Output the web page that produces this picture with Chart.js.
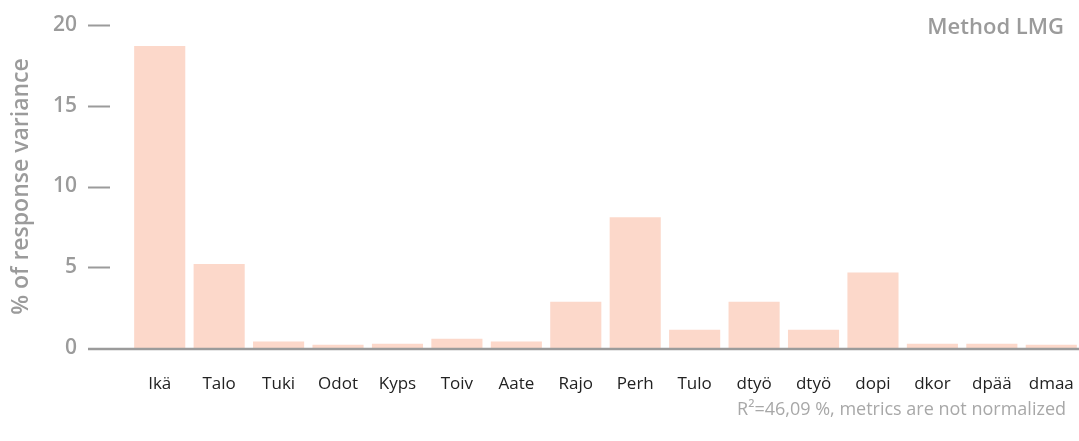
<!DOCTYPE html>
<html>
<head>
<meta charset="utf-8">
<script src="https://cdn.jsdelivr.net/npm/chart.js@4"></script>
<style>
  html, body { margin: 0; padding: 0; background: #fff; overflow: hidden; }
  #wrap { width: 1083px; height: 441px; position: relative; }
</style>
</head>
<body>
<div id="wrap"><canvas id="chart"></canvas></div>
<script>
// --- datos ---
const CATEGORIES = ['Ikä', 'Talo', 'Tuki', 'Odot', 'Kyps', 'Toiv', 'Aate', 'Rajo', 'Perh', 'Tulo', 'dtyö', 'dtyö', 'dopi', 'dkor', 'dpää', 'dmaa'];
const VARIANCE = [18.7, 5.2, 0.41, 0.2, 0.27, 0.58, 0.41, 2.87, 8.1, 1.13, 2.87, 1.13, 4.67, 0.27, 0.27, 0.2];
const Y_TICKS = [0, 5, 10, 15, 20];
const METHOD_LABEL = 'Method LMG';
const FOOTNOTE = 'R²=46,09 %, metrics are not normalized';

const FONT = '"Open Sans", Lato, sans-serif';
const GRAY = '#9b9b9b';

// rayitas del eje y, linea base y textos sueltos
const decor = {
  id: 'decor',
  afterDraw(chart) {
    const { ctx } = chart;
    const y = chart.scales.y;
    ctx.save();
    ctx.strokeStyle = GRAY;
    ctx.lineWidth = 2;
    Y_TICKS.forEach(v => {
      if (v === 0) return;
      const py = Math.round(y.getPixelForValue(v)) + 0.5;
      ctx.beginPath();
      ctx.moveTo(88, py);
      ctx.lineTo(110, py);
      ctx.stroke();
    });
    const base = y.getPixelForValue(0) + 1;
    ctx.lineWidth = 2.5;
    ctx.beginPath();
    ctx.moveTo(88, base);
    ctx.lineTo(chart.width, base);
    ctx.stroke();

    ctx.fillStyle = GRAY;
    ctx.textAlign = 'right';
    ctx.textBaseline = 'middle';
    ctx.font = `600 22px ${FONT}`;
    ctx.fillText(METHOD_LABEL, 1064, 28);
    ctx.font = `18px ${FONT}`;
    ctx.fillStyle = '#a8a8a8';
    ctx.fillText(FOOTNOTE, 1066, 410);
    ctx.restore();
  }
};

new Chart(document.getElementById('chart'), {
  type: 'bar',
  data: {
    labels: CATEGORIES,
    datasets: [{
      data: VARIANCE,
      backgroundColor: '#fcd8ca',
      barPercentage: 0.86,
      categoryPercentage: 1
    }]
  },
  options: {
    responsive: true,
    maintainAspectRatio: false,
    animation: false,
    layout: { padding: { top: 0, right: 2, bottom: 0, left: 0 } },
    plugins: {
      legend: { display: false },
      tooltip: { enabled: false }
    },
    scales: {
      x: {
        afterFit(scale) {
          scale.height = 93;
          scale.paddingLeft = 0;
          scale.paddingRight = 0;
        },
        grid: { display: false, drawTicks: false },
        border: { display: false },
        ticks: {
          color: '#222',
          font: { family: FONT, size: 17 },
          padding: 26,
          maxRotation: 0,
          autoSkip: false
        }
      },
      y: {
        min: 0,
        max: 20,
        afterFit(scale) {
          scale.width = 130;
          scale.paddingTop = 25;
          scale.paddingBottom = 10;
        },
        afterBuildTicks(scale) { scale.ticks = Y_TICKS.map(v => ({ value: v })); },
        grid: { display: false, drawTicks: false },
        border: { display: false },
        ticks: {
          color: GRAY,
          font: { family: FONT, size: 21, weight: '600' },
          padding: 53
        },
        title: {
          display: true,
          text: '% of response variance',
          color: GRAY,
          font: { family: FONT, size: 23, weight: '600' },
          padding: { top: 8, bottom: 0 }
        }
      }
    }
  },
  plugins: [decor]
});
</script>
</body>
</html>
